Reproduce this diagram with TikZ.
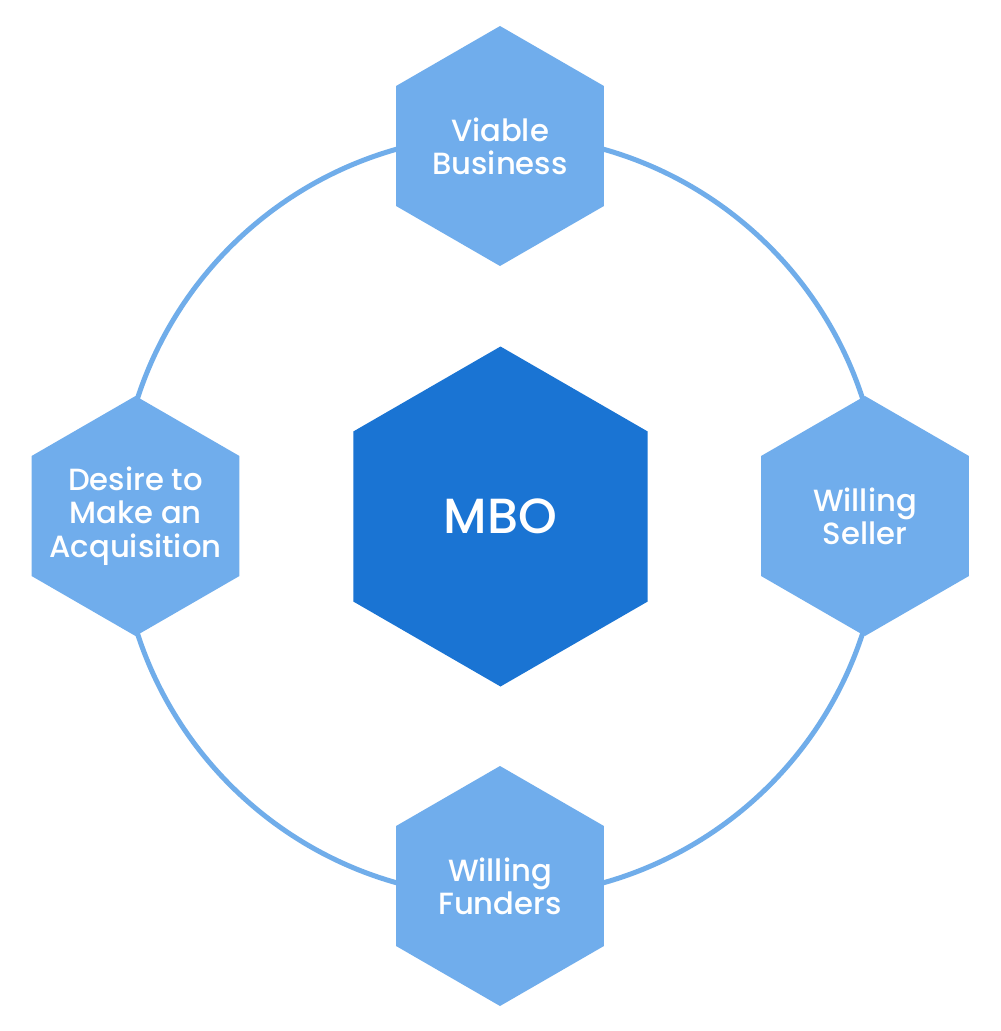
\documentclass[tikz,border=0pt]{standalone}
\usepackage{fontspec}
\setmainfont{Poppins Medium}
\usetikzlibrary{shapes.geometric}
\definecolor{hexlight}{HTML}{70ADEC}
\definecolor{hexdark}{HTML}{1A74D3}
\definecolor{ringcol}{HTML}{70ADEA}
\tikzset{
  hexsmall/.style={regular polygon, regular polygon sides=6, shape border rotate=30,
    minimum size=180pt, inner sep=0pt, fill=hexlight},
  hexbig/.style={regular polygon, regular polygon sides=6, shape border rotate=30,
    minimum size=255pt, inner sep=0pt, fill=hexdark},
  smalltext/.style={text=white, align=center, inner sep=0pt,
    font={\fontsize{23pt}{25pt}\selectfont}},
  bigtext/.style={text=white, align=center, inner sep=0pt,
    font={\fontsize{37pt}{40pt}\selectfont}},
  ring/.style={draw=ringcol, line width=3.75pt}
}
\begin{document}
\begin{tikzpicture}[x=0.75pt,y=-0.75pt]
\useasboundingbox[fill=white] (0,0) rectangle (1000,1031);
\coordinate (c) at (500,516);
\draw[ring] (c) circle[radius=381];
\node[hexsmall] (top) at (500,146) {};
\node[hexsmall] (left) at (135.5,516) {};
\node[hexsmall] (right) at (865,516) {};
\node[hexsmall] (bottom) at (500,886) {};
\node[hexbig] (mbo) at (500.5,516.5) {};
\node[smalltext] (toptext) at (top) {Viable\\Business};
\node[smalltext] (lefttext) at (left) {Desire to\\Make an\\Acquisition};
\node[smalltext] (righttext) at (right) {Willing\\Seller};
\node[smalltext] (bottomtext) at (bottom) {Willing\\Funders};
\node[bigtext] (mbotext) at (mbo) {MBO};
\end{tikzpicture}
\end{document}
